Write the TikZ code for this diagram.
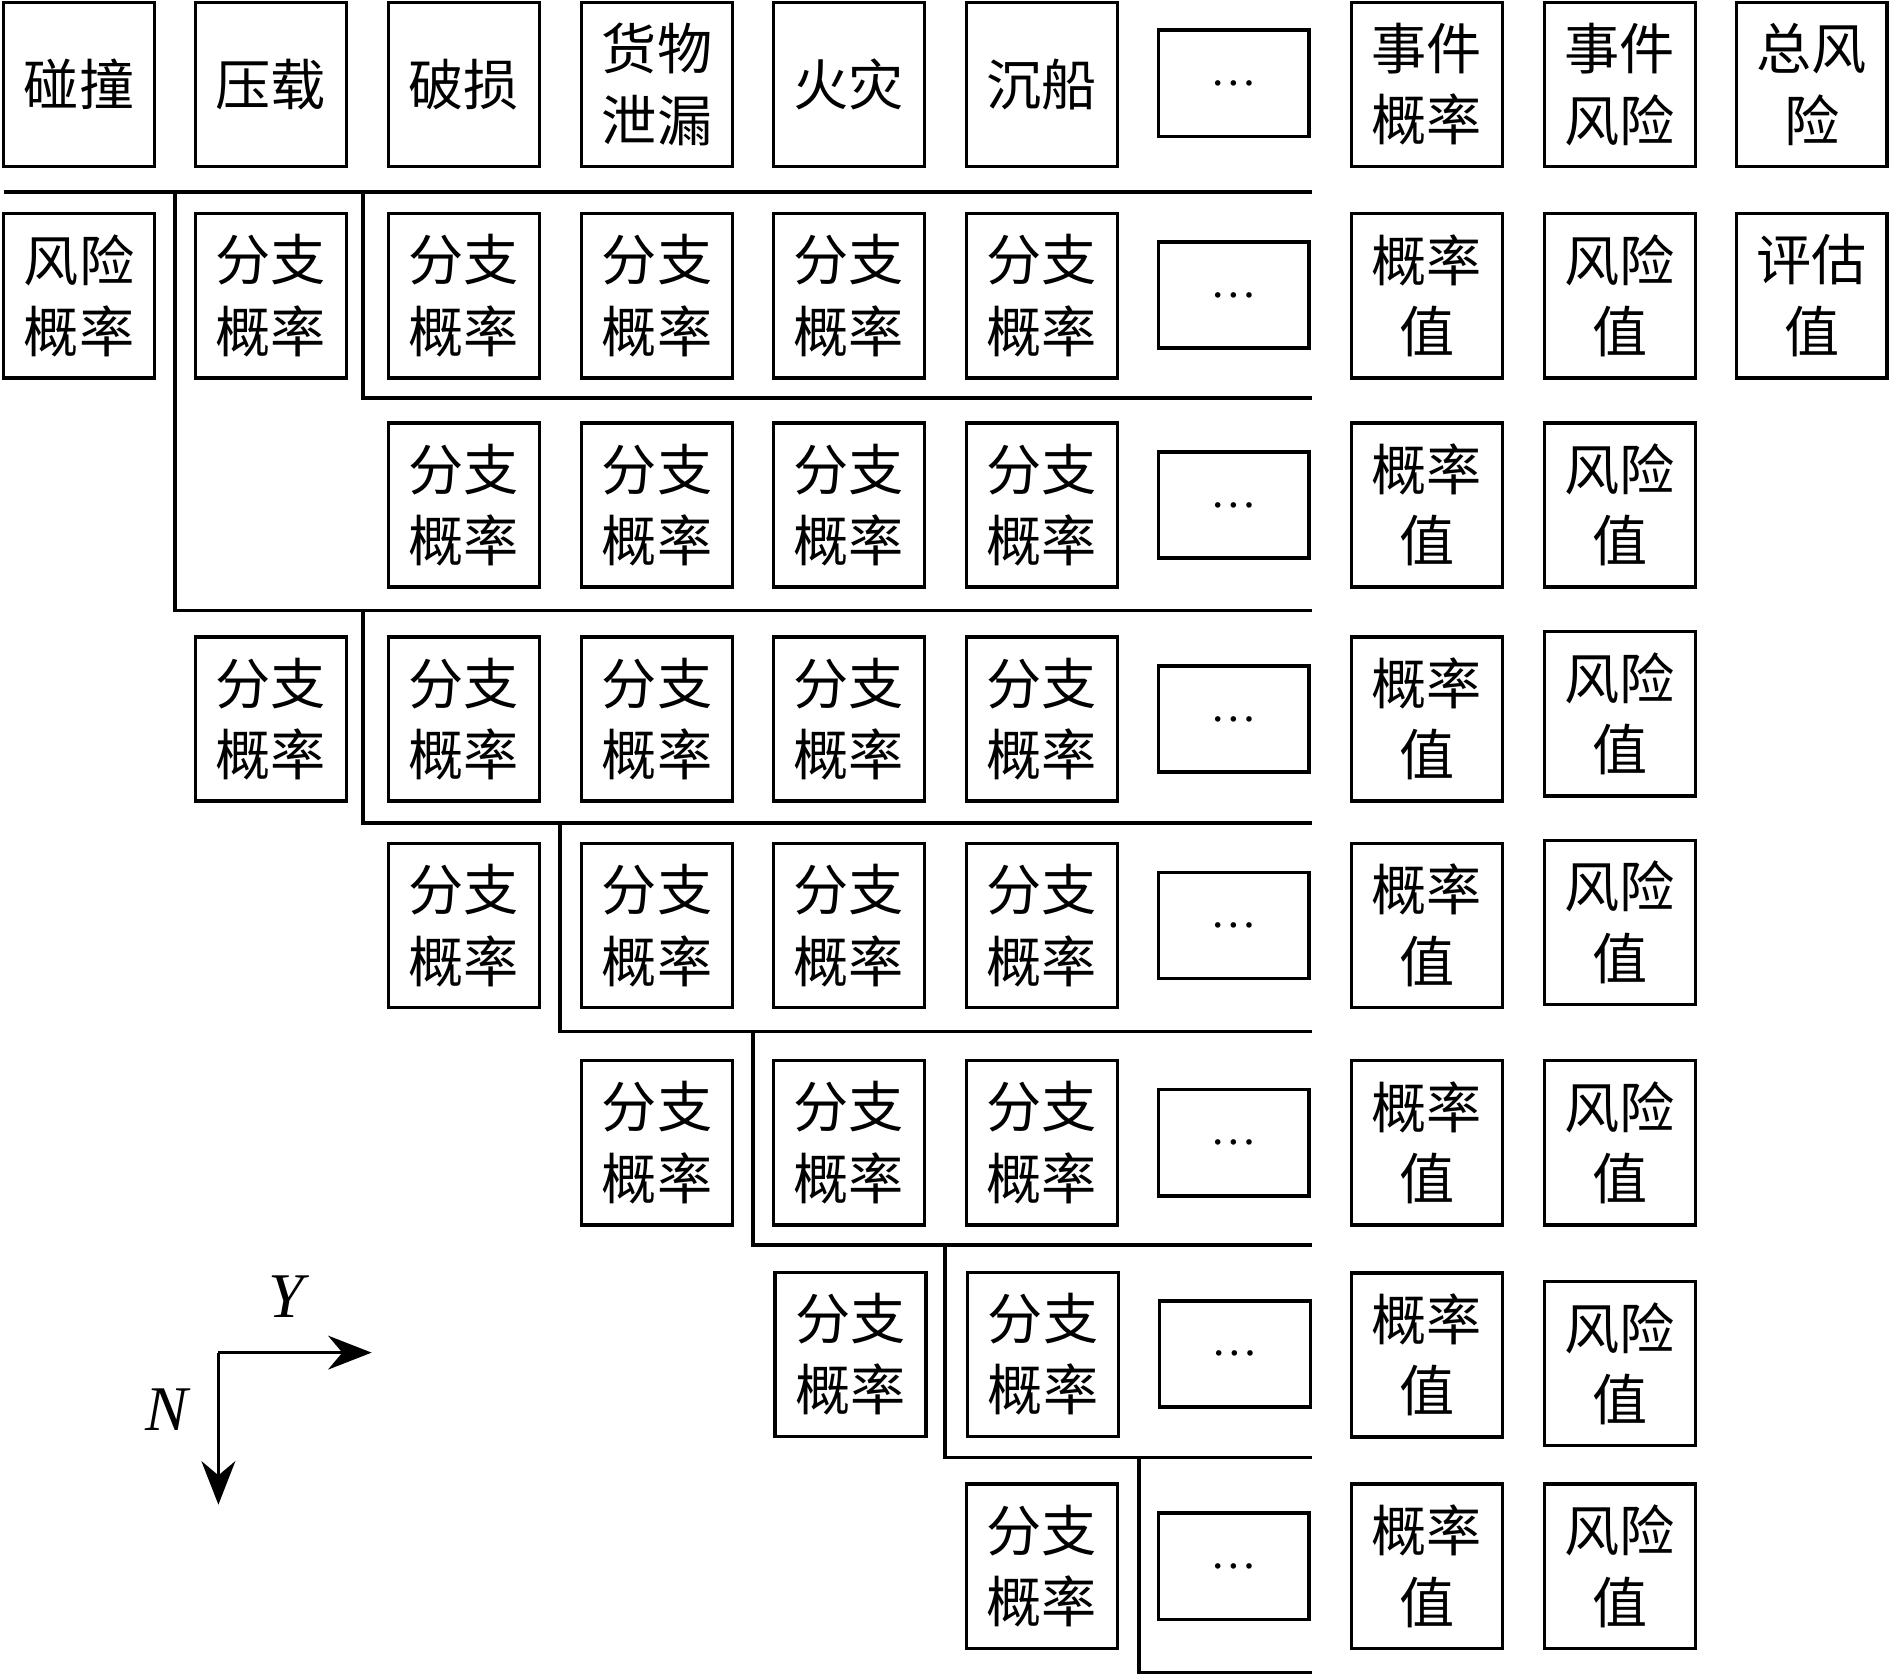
\documentclass[tikz,border=0pt]{standalone}
\usepackage{fontspec}
\setmainfont{Liberation Serif}
\newfontfamily\cjk{Noto Sans CJK SC}
\usetikzlibrary{arrows.meta}
\tikzset{
  cell/.style={draw, line width=0.85pt, minimum width=1.25cm, minimum height=1.36cm,
    inner sep=0pt, align=center, font=\cjk\fontsize{13}{16.8}\selectfont},
  dotcell/.style={cell, minimum height=0.88cm, font=\rmfamily\fontsize{11}{11}\selectfont},
  sepline/.style={line width=0.85pt},
}
\begin{document}
\begin{tikzpicture}
    [x=0.01cm, y=-0.01cm]
    \useasboundingbox (0,0) rectangle (1568,1388);
    %header row
    \node[cell] (h1) at (65.5,70) {碰撞};
    \node[cell] (h2) at (224.5,70) {压载};
    \node[cell] (h3) at (384.5,70) {破损};
    \node[cell] (h4) at (544.5,70) {货物\\泄漏};
    \node[cell] (h5) at (703.5,70) {火灾};
    \node[cell] (h6) at (863.5,70) {沉船};
    \node[dotcell] (h7) at (1022.5,69) {…};
    \node[cell] (h8) at (1182.5,70) {事件\\概率};
    \node[cell] (h9) at (1342.5,70) {事件\\风险};
    \node[cell] (h10) at (1501.5,70) {总风\\险};
    %row 1
    \node[cell] (a1) at (65.5,245) {风险\\概率};
    \node[cell] (a2) at (224.5,245) {分支\\概率};
    \node[cell] (a3) at (384.5,245) {分支\\概率};
    \node[cell] (a4) at (544.5,245) {分支\\概率};
    \node[cell] (a5) at (703.5,245) {分支\\概率};
    \node[cell] (a6) at (863.5,245) {分支\\概率};
    \node[dotcell] (a7) at (1022.5,244.5) {…};
    \node[cell] (a8) at (1182.5,245) {概率\\值};
    \node[cell] (a9) at (1342.5,245) {风险\\值};
    \node[cell] (a10) at (1501.5,245) {评估\\值};
    %row 2
    \node[cell] (b3) at (384.5,418.5) {分支\\概率};
    \node[cell] (b4) at (544.5,418.5) {分支\\概率};
    \node[cell] (b5) at (703.5,418.5) {分支\\概率};
    \node[cell] (b6) at (863.5,418.5) {分支\\概率};
    \node[dotcell] (b7) at (1022.5,418.5) {…};
    \node[cell] (b8) at (1182.5,418.5) {概率\\值};
    \node[cell] (b9) at (1342.5,418.5) {风险\\值};
    %row 3
    \node[cell] (c2) at (224.5,596) {分支\\概率};
    \node[cell] (c3) at (384.5,596) {分支\\概率};
    \node[cell] (c4) at (544.5,596) {分支\\概率};
    \node[cell] (c5) at (703.5,596) {分支\\概率};
    \node[cell] (c6) at (863.5,596) {分支\\概率};
    \node[dotcell] (c7) at (1022.5,596) {…};
    \node[cell] (c8) at (1182.5,596) {概率\\值};
    \node[cell] (c9) at (1342.5,591.5) {风险\\值};
    %row 4
    \node[cell] (d3) at (384.5,767) {分支\\概率};
    \node[cell] (d4) at (544.5,767) {分支\\概率};
    \node[cell] (d5) at (703.5,767) {分支\\概率};
    \node[cell] (d6) at (863.5,767) {分支\\概率};
    \node[dotcell] (d7) at (1022.5,767) {…};
    \node[cell] (d8) at (1182.5,767) {概率\\值};
    \node[cell] (d9) at (1342.5,764.5) {风险\\值};
    %row 5
    \node[cell] (e4) at (544.5,947) {分支\\概率};
    \node[cell] (e5) at (703.5,947) {分支\\概率};
    \node[cell] (e6) at (863.5,947) {分支\\概率};
    \node[dotcell] (e7) at (1022.5,947) {…};
    \node[cell] (e8) at (1182.5,947) {概率\\值};
    \node[cell] (e9) at (1342.5,947) {风险\\值};
    %row 6
    \node[cell] (f5) at (705,1122.5) {分支\\概率};
    \node[cell] (f6) at (864.5,1122.5) {分支\\概率};
    \node[dotcell] (f7) at (1023.5,1122) {…};
    \node[cell] (f8) at (1182.5,1123) {概率\\值};
    \node[cell] (f9) at (1342.5,1130) {风险\\值};
    %row 7
    \node[cell] (g6) at (863.5,1298) {分支\\概率};
    \node[dotcell] (g7) at (1022.5,1298) {…};
    \node[cell] (g8) at (1182.5,1298) {概率\\值};
    \node[cell] (g9) at (1342.5,1298) {风险\\值};
    %separating lines
    \draw[sepline] (3,159)--(1087,159);
    \draw[sepline] (145,159)--(145,506)--(1087,506);
    \draw[sepline] (301,159)--(301,330)--(1087,330);
    \draw[sepline] (301,506)--(301,682)--(1087,682);
    \draw[sepline] (464,682)--(464,855)--(1087,855);
    \draw[sepline] (624,855)--(624,1032)--(1087,1032);
    \draw[sepline] (783,1032)--(783,1208)--(1087,1208);
    \draw[sepline] (944,1208)--(944,1386)--(1087,1386);
    %axes
    \coordinate (o) at (181,1121);
    \coordinate (yend) at (308,1121);
    \coordinate (nend) at (181,1247);
    \draw[sepline,-{Stealth[length=0.36cm,width=0.28cm]}] (o)--(yend);
    \draw[sepline,-{Stealth[length=0.36cm,width=0.28cm]}] (o)--(nend);
    \node[font=\itshape\fontsize{15}{15}\selectfont] (ylab) at (237,1075) {Y};
    \node[font=\itshape\fontsize{15}{15}\selectfont] (nlab) at (138,1168) {N};
\end{tikzpicture}
\end{document}
